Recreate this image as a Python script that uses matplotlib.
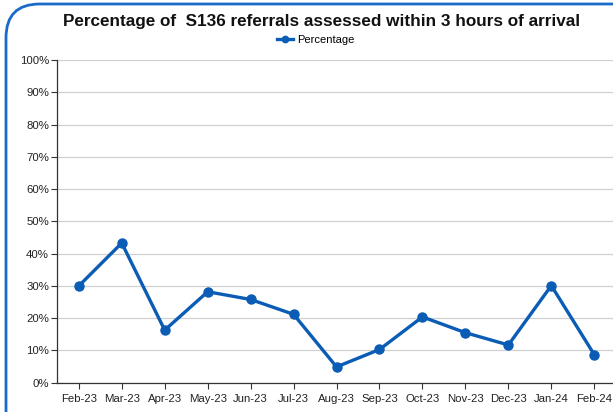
import matplotlib.pyplot as plt
import numpy as np
from matplotlib.patches import FancyBboxPatch
from matplotlib.ticker import PercentFormatter

# Data
months = ["Feb-23", "Mar-23", "Apr-23", "May-23", "Jun-23", "Jul-23", "Aug-23",
          "Sep-23", "Oct-23", "Nov-23", "Dec-23", "Jan-24", "Feb-24"]
percentage = [30.0, 43.3, 16.3, 28.2, 25.8, 21.2, 4.9, 10.3, 20.4, 15.5, 11.7, 30.1, 8.7]

plt.rcParams["font.family"] = ["Liberation Sans", "DejaVu Sans"]

line_col = '#0b5cb5'
frame_col = '#1a6ac9'

fig = plt.figure(figsize=(6.13, 4.12), dpi=100)
ax = fig.add_axes([0.0935, 0.0711, 0.911, 0.783])

x = np.arange(len(months))
ax.plot(x, percentage, color=line_col, linewidth=2.4, marker='o', markersize=6.5,
        label="Percentage", clip_on=False, zorder=3)

ax.set_xlim(-0.5, len(months) - 0.5)
ax.set_ylim(0, 100)
ax.set_yticks(np.arange(0, 101, 10))
ax.yaxis.set_major_formatter(PercentFormatter(decimals=0))
ax.set_xticks(x)
ax.set_xticklabels(months)
ax.tick_params(axis='both', labelsize=8.2, length=4, width=0.8, color='#333333', labelcolor='#222222')
ax.tick_params(axis='x', pad=4)
ax.tick_params(axis='y', pad=2)

ax.grid(axis='y', color='#d0d0d0', linewidth=0.9)
ax.set_axisbelow(True)
for s in ['top', 'right']:
    ax.spines[s].set_visible(False)
for s in ['left', 'bottom']:
    ax.spines[s].set_color('#333333')
    ax.spines[s].set_linewidth(0.9)

fig.text(0.524, 0.949, "Percentage of  S136 referrals assessed within 3 hours of arrival",
         ha='center', va='center', fontsize=12.3, fontweight='bold', color='#111111')
ax.legend(loc='center', bbox_to_anchor=(0.515, 0.902), bbox_transform=fig.transFigure,
          frameon=False, fontsize=8, handlelength=1.4, handletextpad=0.4,
          markerscale=0.7)

# rounded frame
frame = FancyBboxPatch((6 / 613, -0.1), 1.2, 1.1 - 4 / 412,
                       boxstyle="round,pad=0,rounding_size=0.055",
                       transform=fig.transFigure, fill=False,
                       edgecolor=frame_col, linewidth=2, mutation_aspect=613 / 412)
fig.patches.append(frame)

fig.savefig("out.png", dpi=100)
